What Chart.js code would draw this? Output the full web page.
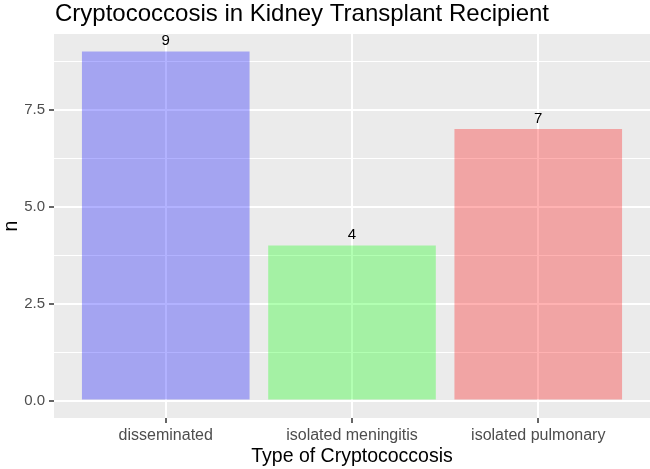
<!DOCTYPE html>
<html>
<head>
<meta charset="utf-8">
<script src="https://cdn.jsdelivr.net/npm/chart.js@4"></script>
<style>
  html, body { margin: 0; padding: 0; background: #fff; }
  #wrap { width: 650px; height: 469px; }
</style>
</head>
<body>
<div id="wrap"><canvas id="chart" width="650" height="469"></canvas></div>
<script>
// --- data ---
const categories = ['disseminated', 'isolated meningitis', 'isolated pulmonary'];
const counts = [9, 4, 7];
const barColors = ['rgba(0, 0, 255, 0.3)', 'rgba(0, 255, 0, 0.3)', 'rgba(255, 0, 0, 0.3)'];
const yMajorTicks = [0, 2.5, 5, 7.5];
const yMinorTicks = [1.25, 3.75, 6.25, 8.75];

const titleText = 'Cryptococcosis in Kidney Transplant Recipient';
const FONT = "'Liberation Sans', Arial, sans-serif";

const isMajorY = v => yMajorTicks.includes(v);

// ggplot-ish grey panel behind everything
const panelBg = {
  id: 'panelBg',
  beforeDraw(chart) {
    const { ctx, chartArea: a } = chart;
    ctx.save();
    ctx.fillStyle = '#EBEBEB';
    ctx.fillRect(a.left, a.top, a.right - a.left, a.bottom - a.top);
    ctx.restore();
  }
};

// title aligned with panel's left edge
const plotTitle = {
  id: 'plotTitle',
  afterDraw(chart) {
    const { ctx, chartArea: a } = chart;
    ctx.save();
    ctx.font = '24px ' + FONT;
    ctx.fillStyle = '#000';
    ctx.textAlign = 'left';
    ctx.textBaseline = 'alphabetic';
    ctx.fillText(titleText, a.left + 1, 21);
    ctx.restore();
  }
};

// count labels above bars
const valueLabels = {
  id: 'valueLabels',
  afterDatasetsDraw(chart) {
    const { ctx } = chart;
    const meta = chart.getDatasetMeta(0);
    ctx.save();
    ctx.font = '15px ' + FONT;
    ctx.fillStyle = '#000';
    ctx.textAlign = 'center';
    ctx.textBaseline = 'alphabetic';
    meta.data.forEach((bar, i) => {
      ctx.fillText(String(counts[i]), bar.x, bar.y - 6);
    });
    ctx.restore();
  }
};

new Chart(document.getElementById('chart'), {
  type: 'bar',
  data: {
    datasets: [{
      data: counts.map((c, i) => ({ x: i + 1, y: c })),
      backgroundColor: barColors,
      borderWidth: 0,
      barPercentage: 0.9,
      categoryPercentage: 1
    }]
  },
  options: {
    responsive: false,
    devicePixelRatio: 1,
    animation: false,
    layout: { padding: { top: 34, left: 0, right: 0, bottom: 0 } },
    plugins: {
      legend: { display: false },
      tooltip: { enabled: false }
    },
    scales: {
      x: {
        type: 'linear',
        min: 0.4,
        max: categories.length + 0.6,
        offset: false,
        afterBuildTicks(scale) {
          scale.ticks = categories.map((c, i) => ({ value: i + 1 }));
        },
        afterFit(scale) { scale.height = 51; },
        border: { display: false },
        grid: {
          color: '#FFFFFF',
          lineWidth: 2,
          offset: false,
          drawTicks: true,
          tickLength: 5,
          tickColor: '#333333',
          tickWidth: 1.5
        },
        ticks: {
          autoSkip: false,
          maxRotation: 0,
          padding: 3,
          color: '#4D4D4D',
          font: { family: FONT, size: 16 },
          callback: v => categories[v - 1]
        },
        title: {
          display: true,
          text: 'Type of Cryptococcosis',
          color: '#000',
          font: { family: FONT, size: 19.5 },
          padding: { top: 0, bottom: 1 }
        }
      },
      y: {
        min: -0.45,
        max: 9.45,
        afterBuildTicks(scale) {
          scale.ticks = [...yMajorTicks, ...yMinorTicks]
            .sort((a, b) => a - b)
            .map(v => ({ value: v }));
        },
        afterFit(scale) { scale.width = 54; },
        border: { display: false },
        grid: {
          color: '#FFFFFF',
          lineWidth: ctx => (ctx.tick && isMajorY(ctx.tick.value)) ? 2 : 1,
          tickLength: 5,
          tickColor: ctx => (ctx.tick && isMajorY(ctx.tick.value)) ? '#333333' : 'rgba(0,0,0,0)',
          tickWidth: 1.5
        },
        ticks: {
          autoSkip: false,
          padding: 4,
          color: '#4D4D4D',
          font: { family: FONT, size: 15 },
          callback: v => isMajorY(v) ? v.toFixed(1) : ''
        },
        title: {
          display: true,
          text: 'n',
          color: '#000',
          font: { family: FONT, size: 19.5 },
          padding: { top: 0, bottom: 0 }
        }
      }
    }
  },
  plugins: [panelBg, plotTitle, valueLabels]
});
</script>
</body>
</html>
